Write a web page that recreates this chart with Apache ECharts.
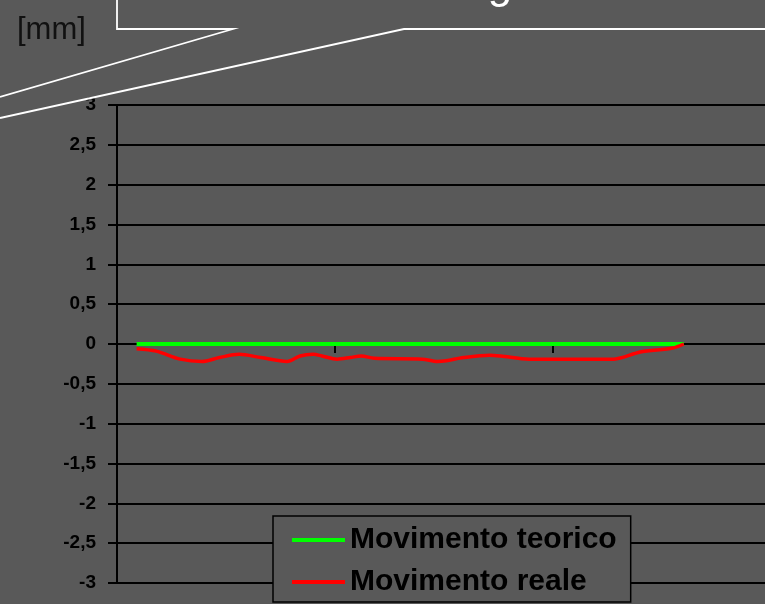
<!DOCTYPE html>
<html>
<head>
<meta charset="utf-8">
<script src="https://cdn.jsdelivr.net/npm/echarts@6/dist/echarts.min.js"></script>
<style>
  html, body { margin: 0; padding: 0; background: #595959; overflow: hidden; }
  /* the plot continues past the right edge of the window */
  #chart { width: 989px; height: 604px; }
</style>
</head>
<body>
<div id="chart"></div>
<script>
// Position along the track (arbitrary units on the horizontal axis)
const posTeorico = [4.5, 130];
const movTeorico = [0, 0];

const posReale = [4.5, 9, 14.5, 19.5, 23.5, 28, 33, 39, 42, 45, 47, 50.5, 53.5, 56, 59,
                  70, 73.5, 75.5, 79.5, 85.5, 88, 94.5, 114, 120, 127.5, 130];
const movReale = [-0.06, -0.09, -0.19, -0.22, -0.17, -0.13, -0.17, -0.22, -0.15, -0.13, -0.15, -0.19, -0.17, -0.15, -0.18,
                  -0.19, -0.22, -0.21, -0.17, -0.14, -0.15, -0.19, -0.19, -0.10, -0.05, 0];

const yTicks = [-3, -2.5, -2, -1.5, -1, -0.5, 0, 0.5, 1, 1.5, 2, 2.5, 3];
const seriesNames = ['Movimento teorico', 'Movimento reale'];
const unitLabel = '[mm]';
const titleText = 'Scostamento lungo la tratta';

const pair = (xs, ys) => xs.map((x, i) => [x, ys[i]]);

const chart = echarts.init(document.getElementById('chart'), null, { renderer: 'canvas' });

chart.setOption({
  backgroundColor: '#595959',
  animation: false,
  grid: { left: 117, top: 105, bottom: 21, right: 0, containLabel: false },
  xAxis: {
    type: 'value',
    min: 0,
    max: 200,
    interval: 50,
    axisLine: { show: true, onZero: true, lineStyle: { color: '#000', width: 2 } },
    axisTick: { show: true, inside: false, length: 9, lineStyle: { color: '#000', width: 2 } },
    axisLabel: { show: false },
    splitLine: { show: false }
  },
  yAxis: {
    type: 'value',
    min: yTicks[0],
    max: yTicks[yTicks.length - 1],
    interval: 0.5,
    axisLine: { show: true, lineStyle: { color: '#000', width: 2 } },
    axisTick: { show: true, length: 9, lineStyle: { color: '#000', width: 2 } },
    axisLabel: {
      margin: 21,
      color: '#000',
      fontFamily: 'Liberation Sans, Arial, sans-serif',
      fontWeight: 'bold',
      fontSize: 19,
      formatter: v => String(v).replace('.', ',')
    },
    splitLine: { show: true, lineStyle: { color: '#000', width: 2 } }
  },
  legend: {
    left: 273,
    top: 516,
    orient: 'vertical',
    icon: 'rect',
    itemWidth: 53,
    itemHeight: 4,
    itemGap: 12,
    itemTextGap: 7,
    padding: [9, 14, 5, 19],
    backgroundColor: '#595959',
    borderColor: '#000',
    borderWidth: 1.5,
    borderRadius: 0,
    textStyle: {
      color: '#000',
      fontFamily: 'Liberation Sans, Arial, sans-serif',
      fontWeight: 'bold',
      fontSize: 30,
      lineHeight: 30
    },
    data: seriesNames
  },
  graphic: [
    {
      type: 'text', left: 17, top: 15, z: 10,
      style: { text: unitLabel, fill: '#111', font: '31px "Liberation Sans", Arial, sans-serif' }
    },
    {
      type: 'text', x: 160, y: -14, z: 10,
      style: { text: titleText, fill: '#fff', font: '44px "Liberation Sans", Arial, sans-serif', textVerticalAlign: 'middle' }
    },
    {
      type: 'polyline', z: 10,
      shape: { points: [[117, -5], [117, 29], [233, 29], [0, 97]] },
      style: { stroke: '#fff', lineWidth: 1.8, fill: null }
    },
    {
      type: 'polyline', z: 10,
      shape: { points: [[0, 118], [404, 29], [800, 29]] },
      style: { stroke: '#fff', lineWidth: 1.8, fill: null }
    }
  ],
  series: [
    {
      name: seriesNames[0],
      type: 'line',
      data: pair(posTeorico, movTeorico),
      showSymbol: false,
      symbol: 'none',
      color: '#00ff00',
      lineStyle: { color: '#00ff00', width: 4 },
      z: 3
    },
    {
      name: seriesNames[1],
      type: 'line',
      data: pair(posReale, movReale),
      showSymbol: false,
      symbol: 'none',
      smooth: 0.3,
      color: '#ff0000',
      lineStyle: { color: '#ff0000', width: 3.5 },
      z: 4
    }
  ]
});
</script>
</body>
</html>
